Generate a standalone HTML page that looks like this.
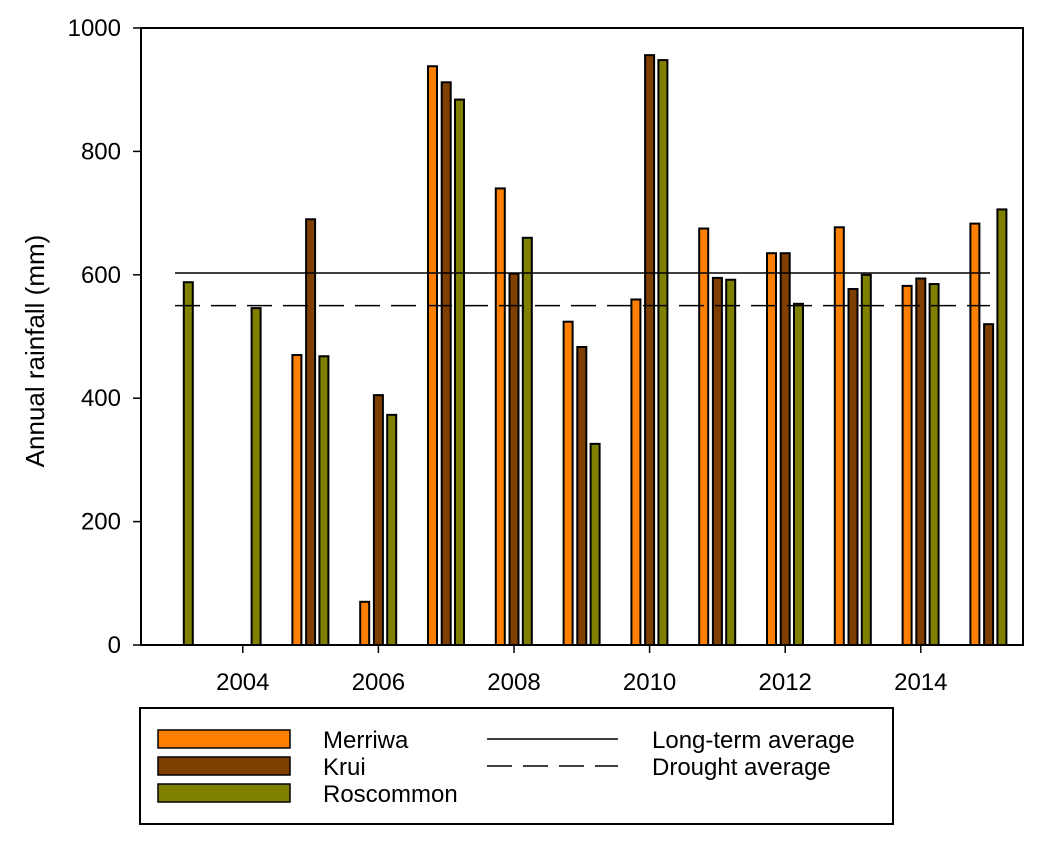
<!DOCTYPE html>
<html><head><meta charset="utf-8"><style>
body{margin:0;background:#fff;font-family:"Liberation Sans",sans-serif}
svg text{font-family:"Liberation Sans",sans-serif;font-size:24px;fill:#000}
</style></head><body>
<svg id="c" width="1039" height="840"></svg>
<script>
const years=[2003,2004,2005,2006,2007,2008,2009,2010,2011,2012,2013,2014,2015];
const merriwa=[0,0,470,70,938,740,524,560,675,635,677,582,683];
const krui=[0,0,690,405,912,602,483,956,595,635,577,594,520];
const roscommon=[588,546,468,373,884,660,326,948,592,553,600,585,706];
const yTicks=[0,200,400,600,800,1000];
const xTicks=[2004,2006,2008,2010,2012,2014];
const longTerm=603, drought=550;
const NS="http://www.w3.org/2000/svg",svg=document.getElementById('c');
function el(t,a,p){const e=document.createElementNS(NS,t);for(const k in a)e.setAttribute(k,a[k]);(p||svg).appendChild(e);return e;}
const X0=141,X1=1023,Y0=645,Y1=28;
const xs=y=>175+(y-2003)*67.8;
const ys=v=>Y0-(v/1000)*(Y0-Y1);
const series=[[merriwa,'#ff8000',-13.7,'bar-merriwa'],[krui,'#7f3f00',0,'bar-krui'],[roscommon,'#808000',13.3,'bar-roscommon']];
series.forEach(([vals,col,off,nm])=>{vals.forEach((v,i)=>{if(v<=0)return;const cx=xs(years[i])+off;
const r=el('rect',{x:cx-4.5,y:ys(v),width:9,height:Y0-ys(v),fill:col,stroke:'#000','stroke-width':2});

});});
let l=el('line',{x1:175,x2:990,y1:ys(longTerm),y2:ys(longTerm),stroke:'#000','stroke-width':1.5});

l=el('line',{x1:175,x2:990,y1:ys(drought),y2:ys(drought),stroke:'#000','stroke-width':1.5,'stroke-dasharray':'25,11'});

const f=el('rect',{x:X0,y:Y1,width:X1-X0,height:Y0-Y1,fill:'none',stroke:'#000','stroke-width':2});

yTicks.forEach(v=>{el('line',{x1:X0-8,x2:X0,y1:ys(v),y2:ys(v),stroke:'#000','stroke-width':1.5});
const t=el('text',{x:X0-20,y:ys(v)+8,'text-anchor':'end'});t.textContent=v;
});
xTicks.forEach(v=>{el('line',{x1:xs(v),x2:xs(v),y1:Y0,y2:Y0+8,stroke:'#000','stroke-width':1.5});
const t=el('text',{x:xs(v),y:Y0+45,'text-anchor':'middle'});t.textContent=v;
});
const yt=el('text',{x:0,y:0,'text-anchor':'middle',transform:'translate(44,351) rotate(-90)'});
yt.style.fontSize='26px';yt.textContent='Annual rainfall (mm)';

const lg=el('g',{});
el('rect',{x:140,y:708,width:753,height:116,fill:'none',stroke:'#000','stroke-width':2},lg);
[['Merriwa','#ff8000',730],['Krui','#7f3f00',757],['Roscommon','#808000',784]].forEach(([n,c,y])=>{
el('rect',{x:158,y:y,width:132,height:18,fill:c,stroke:'#000','stroke-width':1.5},lg);
const t=el('text',{x:323,y:y+18},lg);t.textContent=n;
});
el('line',{x1:487,x2:618,y1:739,y2:739,stroke:'#000','stroke-width':1.5},lg);
el('line',{x1:487,x2:618,y1:766,y2:766,stroke:'#000','stroke-width':1.5,'stroke-dasharray':'25,11'},lg);
let t=el('text',{x:652,y:748},lg);t.textContent='Long-term average';

t=el('text',{x:652,y:775},lg);t.textContent='Drought average';

</script></body></html>
